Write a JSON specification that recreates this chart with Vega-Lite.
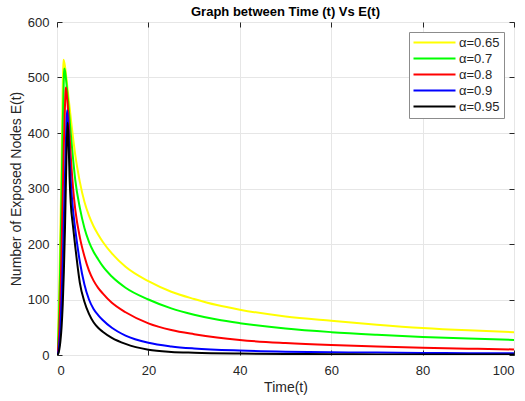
{
  "$schema": "https://vega.github.io/schema/vega-lite/v6.json",
  "width": 457,
  "height": 333,
  "autosize": {"type": "none"},
  "padding": {"left": 57, "top": 22, "right": 11, "bottom": 46},
  "background": "white",
  "title": {"text": "Graph between Time (t) Vs E(t)", "font": "Liberation Sans", "fontSize": 13, "fontWeight": "bold", "color": "#000000", "offset": -3},
  "config": {
    "view": {"stroke": "#262626", "strokeWidth": 1},
    "axis": {"labelFont": "Liberation Sans", "titleFont": "Liberation Sans", "labelFontSize": 13, "titleFontSize": 14, "labelColor": "#262626", "titleColor": "#262626", "titleFontWeight": "normal", "domain": false, "tickColor": "#262626", "tickSize": -5, "gridColor": "#e6e6e6", "gridWidth": 1}
  },
  "datasets": {
    "curves": [
      {"t":0,"a":"α=0.65","E":0},{"t":0.25,"a":"α=0.65","E":40},{"t":0.5,"a":"α=0.65","E":120},{"t":0.75,"a":"α=0.65","E":230},{"t":1,"a":"α=0.65","E":340},{"t":1.25,"a":"α=0.65","E":480},{"t":1.4,"a":"α=0.65","E":532},{"t":1.5,"a":"α=0.65","E":530},{"t":1.75,"a":"α=0.65","E":520},{"t":2,"a":"α=0.65","E":503},{"t":2.5,"a":"α=0.65","E":465},{"t":3,"a":"α=0.65","E":428},{"t":3.5,"a":"α=0.65","E":392},{"t":4,"a":"α=0.65","E":360},{"t":5,"a":"α=0.65","E":312},{"t":6,"a":"α=0.65","E":276},{"t":7,"a":"α=0.65","E":251},{"t":8,"a":"α=0.65","E":232},{"t":9,"a":"α=0.65","E":217},{"t":10,"a":"α=0.65","E":204},{"t":12,"a":"α=0.65","E":183},{"t":15,"a":"α=0.65","E":159},{"t":20,"a":"α=0.65","E":133},{"t":25,"a":"α=0.65","E":114},{"t":30,"a":"α=0.65","E":101},{"t":35,"a":"α=0.65","E":90},{"t":40,"a":"α=0.65","E":81.7},{"t":50,"a":"α=0.65","E":69.4},{"t":60,"a":"α=0.65","E":61.6},{"t":70,"a":"α=0.65","E":54.6},{"t":80,"a":"α=0.65","E":48.7},{"t":90,"a":"α=0.65","E":44.4},{"t":100,"a":"α=0.65","E":41.1},
      {"t":0,"a":"α=0.7","E":0},{"t":0.25,"a":"α=0.7","E":25},{"t":0.5,"a":"α=0.7","E":85},{"t":0.75,"a":"α=0.7","E":180},{"t":1,"a":"α=0.7","E":290},{"t":1.25,"a":"α=0.7","E":410},{"t":1.5,"a":"α=0.7","E":500},{"t":1.6,"a":"α=0.7","E":516},{"t":1.75,"a":"α=0.7","E":512},{"t":2,"a":"α=0.7","E":495},{"t":2.5,"a":"α=0.7","E":450},{"t":3,"a":"α=0.7","E":400},{"t":3.5,"a":"α=0.7","E":355},{"t":4,"a":"α=0.7","E":315},{"t":5,"a":"α=0.7","E":265},{"t":6,"a":"α=0.7","E":229},{"t":7,"a":"α=0.7","E":204},{"t":8,"a":"α=0.7","E":186},{"t":9,"a":"α=0.7","E":172.6},{"t":10,"a":"α=0.7","E":160},{"t":12,"a":"α=0.7","E":141.3},{"t":15,"a":"α=0.7","E":121.2},{"t":20,"a":"α=0.7","E":100},{"t":25,"a":"α=0.7","E":84},{"t":30,"a":"α=0.7","E":72.6},{"t":35,"a":"α=0.7","E":63.9},{"t":40,"a":"α=0.7","E":57.4},{"t":50,"a":"α=0.7","E":47.6},{"t":60,"a":"α=0.7","E":41.2},{"t":70,"a":"α=0.7","E":36.5},{"t":80,"a":"α=0.7","E":32.6},{"t":90,"a":"α=0.7","E":29.6},{"t":100,"a":"α=0.7","E":27.2},
      {"t":0,"a":"α=0.8","E":0},{"t":0.25,"a":"α=0.8","E":12},{"t":0.5,"a":"α=0.8","E":45},{"t":0.75,"a":"α=0.8","E":105},{"t":1,"a":"α=0.8","E":190},{"t":1.25,"a":"α=0.8","E":285},{"t":1.5,"a":"α=0.8","E":380},{"t":1.75,"a":"α=0.8","E":450},{"t":1.9,"a":"α=0.8","E":482},{"t":2,"a":"α=0.8","E":479},{"t":2.25,"a":"α=0.8","E":460},{"t":2.5,"a":"α=0.8","E":430},{"t":3,"a":"α=0.8","E":360},{"t":3.5,"a":"α=0.8","E":302},{"t":4,"a":"α=0.8","E":262},{"t":5,"a":"α=0.8","E":212},{"t":6,"a":"α=0.8","E":178},{"t":7,"a":"α=0.8","E":152},{"t":8,"a":"α=0.8","E":134},{"t":9,"a":"α=0.8","E":121},{"t":10,"a":"α=0.8","E":111},{"t":12,"a":"α=0.8","E":94},{"t":15,"a":"α=0.8","E":77},{"t":20,"a":"α=0.8","E":57},{"t":25,"a":"α=0.8","E":45},{"t":30,"a":"α=0.8","E":37.5},{"t":35,"a":"α=0.8","E":31.5},{"t":40,"a":"α=0.8","E":27},{"t":50,"a":"α=0.8","E":21.5},{"t":60,"a":"α=0.8","E":17.8},{"t":70,"a":"α=0.8","E":15.2},{"t":80,"a":"α=0.8","E":13.1},{"t":90,"a":"α=0.8","E":11.4},{"t":100,"a":"α=0.8","E":10},
      {"t":0,"a":"α=0.9","E":0},{"t":0.25,"a":"α=0.9","E":4},{"t":0.5,"a":"α=0.9","E":20},{"t":0.75,"a":"α=0.9","E":50},{"t":1,"a":"α=0.9","E":100},{"t":1.25,"a":"α=0.9","E":165},{"t":1.5,"a":"α=0.9","E":245},{"t":1.75,"a":"α=0.9","E":325},{"t":2,"a":"α=0.9","E":400},{"t":2.2,"a":"α=0.9","E":441},{"t":2.5,"a":"α=0.9","E":405},{"t":2.75,"a":"α=0.9","E":355},{"t":3,"a":"α=0.9","E":315},{"t":3.25,"a":"α=0.9","E":285},{"t":3.5,"a":"α=0.9","E":262},{"t":4,"a":"α=0.9","E":226},{"t":5,"a":"α=0.9","E":168},{"t":6,"a":"α=0.9","E":127},{"t":7,"a":"α=0.9","E":100},{"t":8,"a":"α=0.9","E":83},{"t":9,"a":"α=0.9","E":72},{"t":10,"a":"α=0.9","E":63},{"t":12,"a":"α=0.9","E":49},{"t":15,"a":"α=0.9","E":35},{"t":20,"a":"α=0.9","E":22},{"t":25,"a":"α=0.9","E":15.5},{"t":30,"a":"α=0.9","E":11.8},{"t":40,"a":"α=0.9","E":8},{"t":50,"a":"α=0.9","E":6},{"t":60,"a":"α=0.9","E":5},{"t":70,"a":"α=0.9","E":4.3},{"t":80,"a":"α=0.9","E":3.8},{"t":90,"a":"α=0.9","E":3.3},{"t":100,"a":"α=0.9","E":3},
      {"t":0,"a":"α=0.95","E":0},{"t":0.25,"a":"α=0.95","E":2},{"t":0.5,"a":"α=0.95","E":10},{"t":0.75,"a":"α=0.95","E":25},{"t":1,"a":"α=0.95","E":50},{"t":1.25,"a":"α=0.95","E":90},{"t":1.5,"a":"α=0.95","E":150},{"t":1.75,"a":"α=0.95","E":230},{"t":2,"a":"α=0.95","E":330},{"t":2.3,"a":"α=0.95","E":419},{"t":2.5,"a":"α=0.95","E":395},{"t":2.75,"a":"α=0.95","E":320},{"t":3,"a":"α=0.95","E":275},{"t":3.5,"a":"α=0.95","E":232},{"t":4,"a":"α=0.95","E":195},{"t":4.5,"a":"α=0.95","E":160},{"t":5,"a":"α=0.95","E":130},{"t":6,"a":"α=0.95","E":96},{"t":7,"a":"α=0.95","E":74},{"t":8,"a":"α=0.95","E":59},{"t":9,"a":"α=0.95","E":49},{"t":10,"a":"α=0.95","E":42},{"t":12,"a":"α=0.95","E":31},{"t":15,"a":"α=0.95","E":20},{"t":20,"a":"α=0.95","E":9.5},{"t":25,"a":"α=0.95","E":5.5},{"t":30,"a":"α=0.95","E":4},{"t":40,"a":"α=0.95","E":2.5},{"t":50,"a":"α=0.95","E":1.8},{"t":60,"a":"α=0.95","E":1.4},{"t":70,"a":"α=0.95","E":1.1},{"t":80,"a":"α=0.95","E":1},{"t":90,"a":"α=0.95","E":0.9},{"t":100,"a":"α=0.95","E":0.8}
    ]
  },
  "data": {"name": "curves"},
  "layer": [
    {
      "mark": {"type": "line", "strokeWidth": 2, "interpolate": "monotone", "clip": true},
      "encoding": {
        "x": {"field": "t", "type": "quantitative", "scale": {"domain": [0, 100], "nice": false}, "axis": {"title": "Time(t)", "values": [0, 20, 40, 60, 80, 100], "titlePadding": 3, "labelPadding": 14}},
        "y": {"field": "E", "type": "quantitative", "scale": {"domain": [0, 600], "nice": false}, "axis": {"title": "Number of Exposed Nodes E(t)", "values": [0, 100, 200, 300, 400, 500, 600], "titlePadding": 4, "labelPadding": 13}},
        "color": {"field": "a", "type": "nominal", "sort": ["α=0.65", "α=0.7", "α=0.8", "α=0.9", "α=0.95"],
          "scale": {"domain": ["α=0.65", "α=0.7", "α=0.8", "α=0.9", "α=0.95"], "range": ["#ffff00", "#00ff00", "#ff0000", "#0000ff", "#000000"]},
          "legend": {"title": null, "orient": "none", "legendX": 352, "legendY": 10, "fillColor": "white", "strokeColor": "#8c8c8c", "padding": 4, "symbolType": "M-1.2,0H7.2", "symbolSize": 100, "symbolStrokeWidth": 2, "labelFont": "Liberation Sans", "labelFontSize": 13, "labelColor": "#262626", "labelOffset": 33, "rowPadding": 2}},
        "order": {"field": "a"}
      }
    },
    {
      "mark": {"type": "line", "opacity": 0},
      "encoding": {
        "x": {"field": "t", "type": "quantitative", "axis": {"orient": "top", "labels": false, "title": null, "grid": false, "values": [0, 20, 40, 60, 80, 100]}},
        "y": {"field": "E", "type": "quantitative", "axis": {"orient": "right", "labels": false, "title": null, "grid": false, "values": [0, 100, 200, 300, 400, 500, 600]}}
      }
    }
  ],
  "resolve": {"axis": {"x": "independent", "y": "independent"}}
}
